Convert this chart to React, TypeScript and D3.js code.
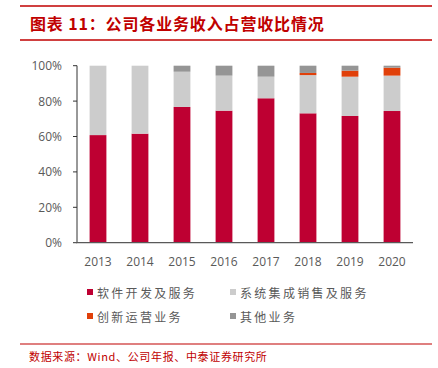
import React from "react";
import * as d3 from "d3";

const years = ["2013", "2014", "2015", "2016", "2017", "2018", "2019", "2020"];
const seriesNames = ["软件开发及服务", "系统集成销售及服务", "创新运营业务", "其他业务"];
const software = [60.8, 61.6, 76.7, 74.6, 81.6, 73.1, 71.6, 74.4];
const integration = [39.2, 38.4, 19.9, 19.8, 12.2, 21.6, 22.2, 20.0];
const innovation = [0, 0, 0, 0, 0, 1.2, 3.4, 4.5];
const other = [0, 0, 3.4, 5.6, 6.2, 4.1, 2.8, 1.1];
const colors = ["#be0032", "#cccccc", "#e0400a", "#959595"];
const yTicks = [0, 20, 40, 60, 80, 100];

export default function App() {
  const W = 438, H = 368;
  const x0 = 77, x1 = 413, yTop = 65.7, yBot = 242.7;
  const x = d3.scaleBand().domain(years).range([x0, x1]).paddingInner(0.6).paddingOuter(0.3);
  const y = d3.scaleLinear().domain([0, 100]).range([yBot, yTop]);
  const rows = years.map((yr, i) => ({ yr, s0: software[i], s1: integration[i], s2: innovation[i], s3: other[i] }));
  const stack = d3.stack<any>().keys(["s0", "s1", "s2", "s3"])(rows);
  const cjk = "'Noto Sans CJK SC', sans-serif";
  const latin = "'Open Sans', 'Noto Sans', sans-serif";
  const legend = [
    { name: seriesNames[0], c: colors[0], x: 87, y: 293 },
    { name: seriesNames[1], c: colors[1], x: 230, y: 293 },
    { name: seriesNames[2], c: colors[2], x: 87, y: 317 },
    { name: seriesNames[3], c: colors[3], x: 230, y: 317 },
  ];
  return (
    <svg width={W} height={H} style={{ position: "absolute", left: 0, top: 0, background: "#fff" }}>
      <line x1={20} x2={432} y1={6} y2={6} stroke="#c00000" strokeWidth={1.5} />
      <line x1={20} x2={432} y1={40} y2={40} stroke="#c00000" strokeWidth={1.5} />
      <text x={30} y={29.5} fill="#c00000" fontFamily={cjk} fontWeight="bold" fontSize={16} letterSpacing={0.85}>
        图表 11：公司各业务收入占营收比情况
      </text>
      {stack.map((layer, li) => (
        <g key={li} fill={colors[li]}>
          {layer.map((d: any, i: number) => {
            const h = y(d[0]) - y(d[1]);
            if (h <= 0) return null;
            return <rect key={i} x={x(years[i])} y={y(d[1])} width={x.bandwidth()} height={h} />;
          })}
        </g>
      ))}
      <line x1={x0} x2={x0} y1={yTop} y2={yBot} stroke="#333" strokeWidth={1} />
      {yTicks.map((t) => (
        <g key={t}>
          <line x1={x0 - 4} x2={x0} y1={y(t)} y2={y(t)} stroke="#333" />
          <text x={62} y={y(t) + 4.5} textAnchor="end" fontFamily={latin} fontSize={12} fill="#595959">
            {t}%
          </text>
        </g>
      ))}
      <line x1={x0 - 1} x2={x1} y1={yBot} y2={yBot} stroke="#595959" strokeWidth={1.2} />
      {years.map((yr) => (
        <text key={yr} x={(x(yr) as number) + x.bandwidth() / 2} y={266} textAnchor="middle" fontFamily={latin} fontSize={12} fill="#595959">
          {yr}
        </text>
      ))}
      {legend.map((l) => (
        <g key={l.name}>
          <rect x={l.x} y={l.y - 4} width={6} height={6} fill={l.c} />
          <text x={l.x + 10} y={l.y + 4.5} fontFamily={cjk} fontSize={12} fill="#595959" letterSpacing={2.3}>
            {l.name}
          </text>
        </g>
      ))}
      <line x1={20} x2={432} y1={344} y2={344} stroke="#c00000" strokeWidth={1.2} />
      <text x={29} y={361} fontFamily={cjk} fontSize={11} fill="#c00000" letterSpacing={0.65}>
        数据来源：Wind、公司年报、中泰证券研究所
      </text>
    </svg>
  );
}
